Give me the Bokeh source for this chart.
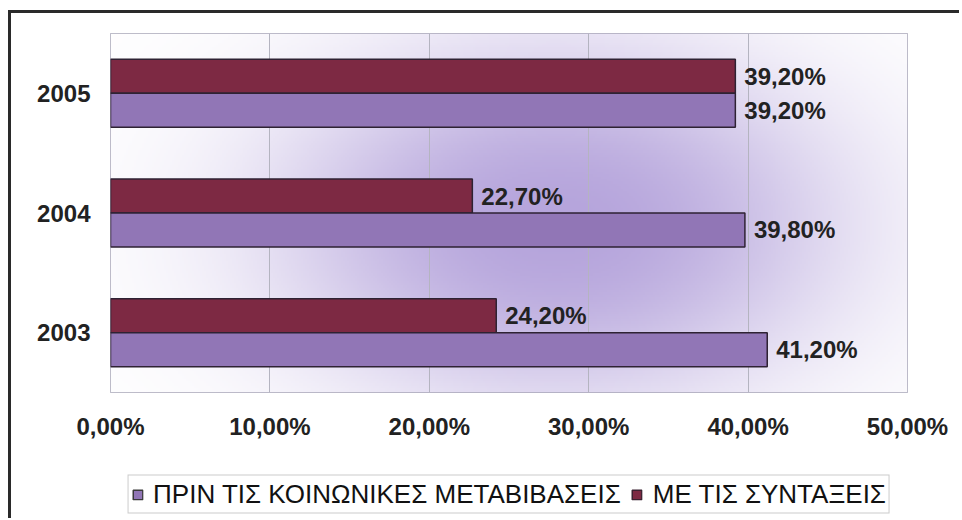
import numpy as np
from bokeh.plotting import figure
from bokeh.layouts import column
from bokeh.models import (ColumnDataSource, FactorRange, Range1d, FixedTicker,
                          Legend, LegendItem)
from bokeh.transform import dodge
from bokeh.core.properties import value
from bokeh.embed import file_html
from bokeh.resources import INLINE

# ---- data ----
years = ["2003", "2004", "2005"]
before_transfers = [41.2, 39.8, 39.2]   # ΠΡΙΝ ΤΙΣ ΚΟΙΝΩΝΙΚΕΣ ΜΕΤΑΒΙΒΑΣΕΙΣ
with_pensions = [24.2, 22.7, 39.2]      # ΜΕ ΤΙΣ ΣΥΝΤΑΞΕΙΣ
series_names = ["ΠΡΙΝ ΤΙΣ ΚΟΙΝΩΝΙΚΕΣ ΜΕΤΑΒΙΒΑΣΕΙΣ", "ΜΕ ΤΙΣ ΣΥΝΤΑΞΕΙΣ"]
tick_values = [0, 10, 20, 30, 40, 50]
tick_labels = ["0,00%", "10,00%", "20,00%", "30,00%", "40,00%", "50,00%"]


def pct(v):
    return f"{v:.2f}".replace(".", ",") + "%"


src = ColumnDataSource(dict(
    year=years,
    before=before_transfers,
    withp=with_pensions,
    before_lbl=[pct(v) for v in before_transfers],
    with_lbl=[pct(v) for v in with_pensions],
))

FONT = "Liberation Sans"
MAROON = "#7d2943"
LAVENDER = "#9176b6"
OUTLINE = "#2e2233"
W_TOTAL = 948

p = figure(width=W_TOTAL, height=457, output_backend="svg",
           toolbar_location=None,
           y_range=FactorRange(factors=years), x_range=Range1d(0, 50),
           min_border_left=99, min_border_right=52, min_border_top=20,
           min_border_bottom=78)
p.background_fill_color = "white"
p.border_fill_color = "white"
p.outline_line_color = "#a8a6b8"
p.outline_line_width = 1

# background glow (decorative)
H, W = 150, 400
xs = np.linspace(0, 50, W)
ys = np.linspace(0, 3, H)
X, Y = np.meshgrid(xs, ys)
w = np.exp(-(((X - 28.0) / 18.0) ** 2 + ((Y - 1.4) / 1.5) ** 2) ** 1.2)
c = np.array([182, 165, 220])
img = np.empty((H, W), dtype=np.uint32)
view = img.view(dtype=np.uint8).reshape((H, W, 4))
for k in range(3):
    view[:, :, k] = (255 * (1 - w) + c[k] * w).astype(np.uint8)
view[:, :, 3] = 255
p.image_rgba(image=[img], x=0, y=0, dw=50, dh=3, level="image")

# grid
p.xgrid.grid_line_color = "#b4b4c0"
p.xgrid.grid_line_width = 1
p.xgrid.level = "underlay"
p.ygrid.grid_line_color = None

off = 0.142
bh = 0.284
r_with = p.hbar(y=dodge("year", off, range=p.y_range), right="withp", left=0,
                height=bh, source=src, fill_color=MAROON,
                line_color=OUTLINE, line_width=1.5)
r_before = p.hbar(y=dodge("year", -off, range=p.y_range), right="before", left=0,
                  height=bh, source=src, fill_color=LAVENDER,
                  line_color=OUTLINE, line_width=1.5)

for col, lbl, o in (("withp", "with_lbl", off), ("before", "before_lbl", -off)):
    p.text(x=col, y=dodge("year", o, range=p.y_range), text=lbl,
           source=src, x_offset=9, text_align="left", text_baseline="middle",
           text_font=value(FONT), text_font_style="bold", text_font_size="24px",
           text_color="#222222")

# axes
p.xaxis.ticker = FixedTicker(ticks=tick_values)
p.xaxis.major_label_overrides = dict(zip(tick_values, tick_labels))
p.xaxis.axis_line_color = None
p.xaxis.major_tick_line_color = None
p.xaxis.minor_tick_line_color = None
p.xaxis.major_label_standoff = 14
p.xaxis.major_label_text_font = FONT
p.xaxis.major_label_text_font_style = "bold"
p.xaxis.major_label_text_font_size = "24px"
p.xaxis.major_label_text_color = "#222222"

p.yaxis.axis_line_color = None
p.yaxis.major_tick_line_color = None
p.yaxis.minor_tick_line_color = None
p.yaxis.major_label_standoff = 14
p.yaxis.major_label_text_font = FONT
p.yaxis.major_label_text_font_style = "bold"
p.yaxis.major_label_text_font_size = "24px"
p.yaxis.major_label_text_color = "#222222"

# ---- legend strip ----
q = figure(width=W_TOTAL, height=48, output_backend="svg", toolbar_location=None,
           x_range=Range1d(0, 1), y_range=Range1d(0, 1),
           min_border_left=43, min_border_right=0, min_border_top=0,
           min_border_bottom=0, x_axis_type=None, y_axis_type=None)
q.outline_line_color = None
q.grid.visible = False
q.background_fill_color = "white"
q.border_fill_color = "white"
proxy = ColumnDataSource(dict(y=[float("nan")], right=[float("nan")]))
k_before = q.hbar(y="y", right="right", height=0.1, source=proxy,
                  fill_color=LAVENDER, line_color="#3a3a3a", line_width=1.5)
k_with = q.hbar(y="y", right="right", height=0.1, source=proxy,
                fill_color=MAROON, line_color="#3a2030", line_width=1.5)

legend = Legend(items=[LegendItem(label=series_names[0], renderers=[k_before]),
                       LegendItem(label=series_names[1], renderers=[k_with])],
                orientation="horizontal", location="center",
                label_text_font=FONT, label_text_font_size="26px",
                label_text_color="#111111",
                glyph_width=12, glyph_height=12, label_standoff=10,
                spacing=10, padding=3, margin=0,
                border_line_color="#9a9a9a", border_line_width=1,
                background_fill_color="white")
q.add_layout(legend, "center")

layout = column(p, q, spacing=0,
                styles={"border-left": "3px solid #2a2a2a",
                        "border-top": "3px solid #2a2a2a",
                        "margin-left": "8px", "margin-top": "10px"})

open("out.html", "w").write(file_html(layout, INLINE))
